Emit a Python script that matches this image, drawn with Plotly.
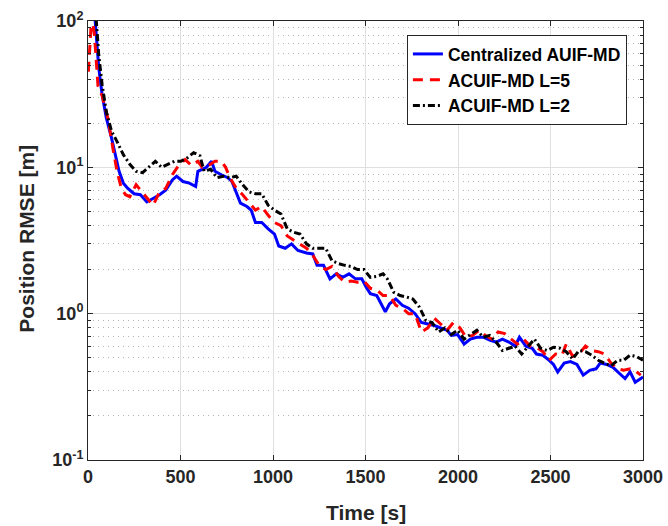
import plotly.graph_objects as go

# ---- data ----
t_blue = [30, 40, 58, 76, 99, 127, 150, 168, 191, 214, 249, 283, 318, 352, 387, 421, 456, 479, 513, 548,
          582, 594, 617, 640, 668, 686, 721, 755, 778, 801, 824, 859, 882, 905, 939, 974, 1008, 1031, 1066,
          1100, 1135, 1181, 1215, 1238, 1273, 1308, 1342, 1377, 1411, 1446, 1480, 1503, 1526, 1561, 1584,
          1607, 1630, 1664, 1699, 1733, 1768, 1802, 1837, 1872, 1906, 1941, 1964, 1998, 2033, 2067, 2102,
          2137, 2171, 2206, 2240, 2275, 2309, 2332, 2367, 2401, 2424, 2459, 2493, 2516, 2539, 2574, 2608,
          2643, 2677, 2712, 2746, 2769, 2804, 2838, 2873, 2903, 2930, 2958, 2988, 3000]
v_blue = [140, 95, 48, 31.6, 21.8, 15.9, 11.6, 9.4, 7.8, 7.2, 6.6, 6.5, 5.8, 6.1, 6.5, 7.0, 8.2, 8.7, 8.0, 7.8,
          7.4, 9.4, 9.7, 10.0, 11.0, 9.4, 8.9, 8.5, 8.0, 6.8, 5.7, 5.4, 5.1, 4.2, 4.2, 3.8, 3.5, 2.9, 2.8,
          3.0, 2.7, 2.6, 2.56, 2.14, 2.14, 1.73, 1.87, 1.77, 1.87, 1.73, 1.73, 1.52, 1.37, 1.33, 1.17,
          1.03, 1.17, 1.26, 1.14, 1.09, 1.0, 0.87, 0.85, 0.83, 0.80, 0.77, 0.71, 0.72, 0.62, 0.67, 0.69,
          0.69, 0.66, 0.64, 0.67, 0.64, 0.60, 0.69, 0.60, 0.58, 0.53, 0.52, 0.48, 0.45, 0.40, 0.46, 0.47,
          0.45, 0.38, 0.41, 0.42, 0.46, 0.45, 0.43, 0.39, 0.36, 0.40, 0.34, 0.36, 0.37]

t_red = [2, 12, 20, 35, 54, 76, 110, 134, 157, 180, 203, 226, 260, 283, 318, 352, 387, 421, 456, 490, 525,
         559, 594, 617, 651, 686, 721, 744, 767, 801, 836, 870, 905, 939, 974, 1008, 1043, 1077, 1112, 1146,
         1181, 1215, 1250, 1285, 1319, 1354, 1388, 1423, 1457, 1492, 1526, 1561, 1595, 1630, 1664, 1699,
         1733, 1768, 1802, 1837, 1872, 1906, 1941, 1975, 2010, 2044, 2079, 2113, 2148, 2183, 2217, 2252,
         2286, 2321, 2355, 2390, 2424, 2459, 2493, 2528, 2562, 2585, 2620, 2654, 2689, 2723, 2758, 2792,
         2827, 2862, 2896, 2930, 2965, 2988]
v_red = [45, 75, 110, 80, 36, 31, 21, 13.6, 9.4, 7.2, 6.5, 6.3, 7.6, 7.0, 6.2, 5.5, 6.8, 7.2, 8.9, 10.3, 11.3,
         10.3, 11.0, 10.0, 10.3, 11.0, 11.0, 10.0, 8.5, 7.2, 6.5, 5.8, 5.1, 5.4, 4.7, 4.2, 4.0, 3.4, 3.2, 3.0,
         2.8, 2.5, 2.14, 2.0, 2.1, 1.8, 1.64, 1.67, 1.64, 1.67, 1.49, 1.45, 1.33, 1.33, 1.14, 1.09,
         1.0, 1.0, 0.75, 0.80, 0.93, 0.85, 0.77, 0.87, 0.80, 0.69, 0.71, 0.77, 0.71, 0.67, 0.75, 0.73,
         0.67, 0.62, 0.67, 0.60, 0.59, 0.55, 0.48, 0.53, 0.52, 0.62, 0.51, 0.53, 0.60, 0.56, 0.55, 0.53,
         0.46, 0.42, 0.41, 0.42, 0.40, 0.38]

t_black = [35, 45, 58, 76, 99, 127, 157, 191, 226, 260, 295, 329, 364, 398, 433, 467, 502, 536, 571, 605,
           628, 663, 697, 732, 767, 801, 836, 870, 905, 939, 974, 1008, 1043, 1077, 1112, 1146, 1181, 1215,
           1250, 1285, 1319, 1354, 1388, 1423, 1457, 1492, 1526, 1561, 1595, 1618, 1653, 1687, 1722, 1756,
           1791, 1826, 1860, 1895, 1929, 1964, 1998, 2033, 2067, 2102, 2137, 2171, 2206, 2240, 2275, 2309,
           2344, 2378, 2413, 2447, 2482, 2516, 2551, 2585, 2620, 2654, 2689, 2723, 2758, 2792, 2827, 2862,
           2896, 2930, 2965, 3000]
v_black = [130, 100, 59, 37, 24, 17.7, 15.0, 12.2, 10.5, 9.4, 9.2, 10.0, 11.0, 10.0, 10.5, 11.0, 11.0, 11.6,
           12.6, 12.0, 9.4, 9.7, 8.5, 8.7, 8.5, 8.7, 7.6, 6.8, 6.6, 6.6, 5.5, 5.1, 4.8, 3.8, 3.6, 3.5, 3.0,
           2.8, 2.8, 2.8, 2.3, 2.2, 2.14, 2.1, 2.0, 2.0, 1.77, 1.8, 1.87, 1.73, 1.4, 1.33, 1.3, 1.26,
           1.11, 0.90, 0.87, 0.75, 0.80, 0.72, 0.77, 0.67, 0.72, 0.77, 0.69, 0.71, 0.64, 0.56, 0.58, 0.60,
           0.53, 0.60, 0.67, 0.58, 0.56, 0.59, 0.58, 0.55, 0.49, 0.56, 0.55, 0.52, 0.48, 0.46, 0.44, 0.48,
           0.48, 0.52, 0.51, 0.48]

names = ["Centralized AUIF-MD", "ACUIF-MD L=5", "ACUIF-MD L=2"]
x_ticks = [0, 500, 1000, 1500, 2000, 2500, 3000]
y_ticks = [0.1, 1, 10, 100]
y_tick_text = ["10<sup>-1</sup>", "10<sup>0</sup>", "10<sup>1</sup>", "10<sup>2</sup>"]
minor_vals = [m * d for d in (0.1, 1, 10) for m in range(2, 10)]
x_title = "Time [s]"
y_title = "Position RMSE [m]"

FONT = "Liberation Sans, Arial, Helvetica, sans-serif"
AX = "#262626"

fig = go.Figure()
fig.add_trace(go.Scatter(x=t_blue, y=v_blue, mode="lines", name=names[0],
                         line=dict(color="#0000ff", width=3)))
fig.add_trace(go.Scatter(x=t_red, y=v_red, mode="lines", name=names[1],
                         line=dict(color="#ff0000", width=3, dash="10px,7px")))
fig.add_trace(go.Scatter(x=t_black, y=v_black, mode="lines", name=names[2],
                         line=dict(color="#000000", width=3, dash="7px,3px,2px,3px")))

fig.update_layout(
    width=668, height=526,
    margin=dict(l=88, r=25, t=21, b=66, autoexpand=False),
    paper_bgcolor="white", plot_bgcolor="white",
    font=dict(family=FONT, color=AX),
    legend=dict(x=0.971, y=0.968, xanchor="right", yanchor="top",
                bgcolor="white", bordercolor="#262626", borderwidth=1,
                font=dict(family=FONT, size=17.5, color="black", weight="bold"),
                tracegroupgap=0),
    showlegend=True,
    annotations=[
        dict(text=x_title, xref="paper", yref="paper", x=0.5, y=-0.12,
             xanchor="center", yanchor="middle", showarrow=False,
             font=dict(family=FONT, size=21, color=AX, weight="bold")),
        dict(text=y_title, xref="paper", yref="paper", x=-0.111, y=0.505,
             xanchor="center", yanchor="middle", showarrow=False, textangle=-90,
             font=dict(family=FONT, size=21, color=AX, weight="bold")),
    ],
)
fig.update_xaxes(
    range=[0, 3000], tickvals=x_ticks, ticktext=[str(v) for v in x_ticks],
    ticks="inside", ticklen=5, tickcolor=AX, tickwidth=1, automargin=False,
    showline=True, linecolor=AX, linewidth=1, mirror="allticks",
    showgrid=True, gridcolor="#dfdfdf", gridwidth=1, zeroline=False,
    tickfont=dict(family=FONT, size=18, color=AX, weight="bold"),
)
fig.update_yaxes(
    type="log", range=[-1, 2], tickvals=y_ticks, ticktext=y_tick_text,
    ticks="inside", ticklen=5, tickcolor=AX, tickwidth=1, automargin=False,
    showline=True, linecolor=AX, linewidth=1, mirror="allticks",
    showgrid=True, gridcolor="#dfdfdf", gridwidth=1, zeroline=False,
    tickfont=dict(family=FONT, size=18, color=AX, weight="bold"),
    minor=dict(tickvals=minor_vals, ticks="inside", ticklen=3, tickcolor=AX,
               showgrid=True, gridcolor="#b4b4b4", griddash="1px,4px", gridwidth=1),
)

fig.write_html("out.html", config={"displayModeBar": False},
               post_script="document.body.style.margin='0';document.body.style.overflow='hidden';")
